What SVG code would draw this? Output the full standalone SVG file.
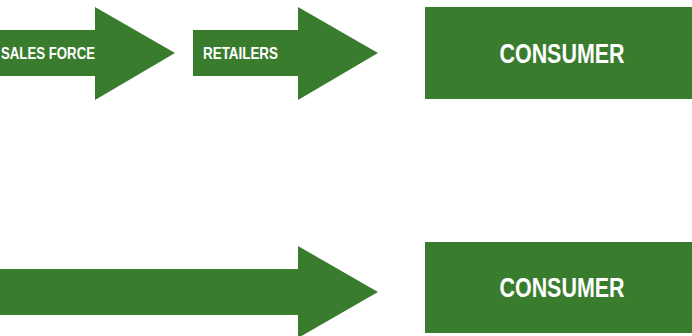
<svg xmlns="http://www.w3.org/2000/svg" width="692" height="336" viewBox="0 0 692 336">
<style>
.g{fill:#3a7c2e}
.t{fill:#ffffff;font-family:"Liberation Sans",Arial,sans-serif;font-weight:bold}
.s{font-size:16.5px}
.b{font-size:27px}
</style>
<rect width="692" height="336" fill="#ffffff"/>
<g id="connectors">
<g id="arrow-sales-force">
<polygon class="g" points="0,30 95,30 95,7 175,53 95,100 95,76 0,76"/>
<text class="t s" x="1" y="59" textLength="94" lengthAdjust="spacingAndGlyphs">SALES FORCE</text>
</g>
<g id="arrow-retailers">
<polygon class="g" points="193,30 298,30 298,7 378,53 298,100 298,76 193,76"/>
<text class="t s" x="203" y="59" textLength="75" lengthAdjust="spacingAndGlyphs">RETAILERS</text>
</g>
<g id="arrow-direct">
<polygon class="g" points="0,269 298,269 298,246 378,292 298,338 298,315 0,315"/>
</g>
</g>
<g id="consumer-1">
<rect class="g" x="425" y="7" width="267" height="92"/>
<text class="t b" x="562" y="63" text-anchor="middle" textLength="125" lengthAdjust="spacingAndGlyphs">CONSUMER</text>
</g>
<g id="consumer-2">
<rect class="g" x="425" y="242" width="267" height="91"/>
<text class="t b" x="562" y="297" text-anchor="middle" textLength="125" lengthAdjust="spacingAndGlyphs">CONSUMER</text>
</g>
</svg>
